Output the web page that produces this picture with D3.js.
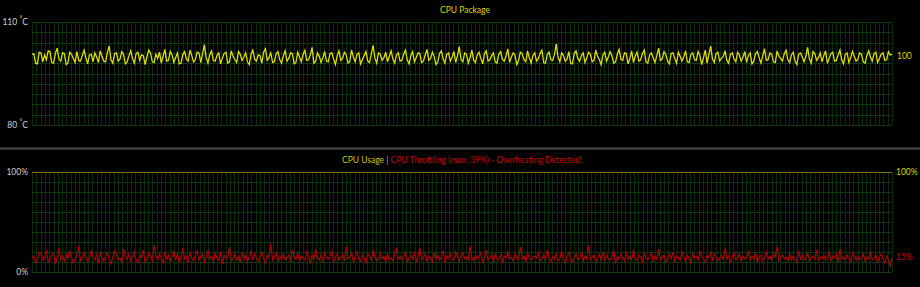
<!DOCTYPE html>
<html lang="en">
<head>
<meta charset="UTF-8">
<title>CPU Package / CPU Usage</title>
<script src="https://d3js.org/d3.v7.min.js"></script>
<style>
    html, body { margin: 0; padding: 0; background: #000; }
    svg { display: block; }
    text { font-family: Lato, "Open Sans", sans-serif; font-size: 8.5px; }
</style>
</head>
<body>
<div id="chart"></div>
<script>
// CPU package temperature (deg C)
var temps = [
    100.6,100.8,98.0,97.8,101.2,101.0,98.4,100.4,99.0,101.6,101.4,98.2,98.0,100.8,102.4,99.2,98.6,101.0,100.8,97.6,
    98.0,101.2,100.6,99.4,98.2,101.4,98.8,98.6,100.2,101.8,99.6,97.8,100.4,100.6,98.4,101.0,99.8,98.2,101.6,100.0,
    98.6,98.4,101.2,103.0,99.0,98.0,100.8,101.0,98.6,99.2,101.4,100.6,97.8,98.4,100.2,101.6,99.4,98.0,100.8,101.2,
    98.8,100.4,100.2,97.6,99.8,101.8,101.0,98.4,98.2,100.6,99.4,101.2,98.0,100.0,102.0,98.6,98.8,101.4,100.4,98.2,
    99.6,101.0,97.8,98.0,100.6,101.4,99.2,98.6,101.8,100.2,98.4,99.0,101.2,101.0,98.2,100.8,103.4,99.6,98.0,100.4,
    101.6,98.8,98.6,100.2,101.0,97.8,99.4,100.8,101.2,98.0,98.4,101.6,100.0,99.0,98.2,101.4,100.6,98.8,99.8,101.0,
    98.4,97.6,100.6,101.8,99.2,98.6,100.4,100.2,98.0,101.2,102.2,98.8,99.6,101.0,98.2,98.4,100.8,101.4,99.0,98.0,
    100.2,101.6,98.6,99.4,101.0,100.8,97.8,98.2,101.2,99.8,98.4,100.6,101.8,98.8,99.0,100.4,102.6,98.0,98.6,101.0,
    100.0,98.2,99.6,101.4,98.6,98.4,100.8,101.0,99.2,97.6,100.2,101.6,98.8,99.4,101.2,100.4,98.0,98.6,101.8,99.8,
    98.4,100.6,101.0,97.8,99.0,100.2,101.4,98.6,98.2,100.8,103.2,99.4,98.0,101.0,100.6,98.8,99.6,101.2,98.4,100.0,
    101.6,99.2,98.0,100.4,101.0,98.6,98.8,100.6,101.8,99.0,97.8,100.2,101.4,98.4,99.6,101.0,100.8,98.2,98.6,100.4,
    102.0,98.8,99.4,101.2,100.0,97.6,98.4,100.8,101.6,99.2,98.0,100.6,101.0,98.6,99.8,101.4,98.2,100.2,102.8,99.0,
    98.4,101.0,100.6,98.0,99.6,101.8,98.8,98.2,100.4,101.2,99.4,97.8,100.8,101.6,98.6,99.0,100.2,101.0,98.4,98.0,
    100.6,101.4,99.2,98.6,100.0,102.2,98.2,99.8,101.0,100.4,97.6,98.8,101.2,100.8,99.0,98.4,101.6,99.6,98.0,100.2,
    101.0,98.6,99.4,100.8,101.8,98.2,98.0,100.6,101.2,99.0,98.8,100.4,103.6,99.8,98.4,101.0,100.2,98.6,99.2,101.4,
    98.0,97.8,100.8,101.6,99.4,98.6,100.2,101.0,98.2,99.6,101.2,100.6,98.4,98.8,101.8,100.0,99.0,97.6,100.4,101.2,
    98.6,99.8,101.4,100.2,98.0,98.4,100.6,102.0,99.2,98.8,101.0,100.8,97.8,99.4,101.6,98.2,100.0,101.2,98.6,99.0,
    100.8,101.8,98.4,98.0,100.4,101.0,99.6,98.2,100.2,102.4,98.8,99.2,101.4,100.6,98.6,97.8,100.8,101.0,99.4,98.0,
    101.2,100.0,98.6,99.8,101.6,98.4,98.2,100.6,101.0,99.0,98.8,101.4,100.2,97.6,99.6,101.8,98.0,100.4,103.0,99.2,
    98.2,100.8,101.2,98.6,99.4,100.0,101.6,98.8,98.0,100.6,101.0,99.2,98.4,101.2,100.4,98.6,99.8,101.4,98.2,100.2,
    101.0,97.8,98.6,100.8,101.4,99.6,98.0,100.2,102.2,98.8,99.0,101.0,100.6,98.4,98.2,101.6,100.0,99.4,98.6,100.8,
    101.8,99.0,98.2,100.4,101.2,98.6,97.6,100.6,101.0,99.8,98.4,100.0,102.6,99.2,98.0,101.4,100.8,98.8,99.6,101.0,
    98.4,100.2,101.6,98.0,99.4,100.8,101.2,98.6,98.8,100.4,101.8,99.0,97.8,100.6,101.0,98.2,99.6,101.4,100.0,98.6,
    99.2,101.0,100.6,98.4,98.0,100.2,101.6,99.8,98.6,100.8,101.2,98.2,99.4,100.6,101.0,98.8,99.0,101.4,100.4,100.6
];

// CPU throttling (%)
var throttle = [
    14,16,9,11,20,18,12,15,22,10,13,17,19,8,14,24,12,16,11,18,
    13,21,15,9,12,17,26,11,14,19,16,10,13,22,15,12,18,9,20,14,
    11,16,19,13,8,15,21,17,12,14,10,23,16,13,18,11,15,20,12,9,
    17,14,22,10,13,19,15,11,27,16,12,18,14,9,20,13,17,11,15,21,
    12,18,10,15,24,13,16,9,19,14,11,17,21,12,15,18,10,14,22,13,
    16,11,19,14,12,20,8,17,13,15,25,11,14,18,12,16,10,19,13,17,
    10,15,21,12,18,14,11,16,20,13,9,17,15,28,12,14,19,11,16,13,
    18,12,14,17,10,22,15,13,19,11,16,14,12,20,15,9,17,13,23,14,
    12,17,11,19,14,13,16,21,10,15,18,12,14,17,11,26,13,15,19,10,
    15,20,13,11,17,14,9,18,16,12,22,15,11,14,19,13,16,10,18,12,
    14,11,18,23,13,16,12,15,20,10,14,17,13,19,11,16,24,12,15,18,
    11,16,14,10,19,13,17,12,15,21,9,16,14,18,12,13,20,15,11,17,
    19,13,15,12,26,14,11,17,13,16,19,10,15,22,12,14,17,11,18,13,
    12,17,10,16,14,20,13,15,11,18,14,12,25,13,16,10,19,14,12,15,
    16,14,19,11,13,17,12,22,15,10,16,13,18,11,14,21,13,9,16,19,
    13,10,15,18,12,14,20,11,16,13,27,12,15,17,10,14,18,12,20,11,
    17,13,12,16,21,10,15,13,18,14,11,19,13,16,12,22,14,11,17,15,
    10,18,14,12,15,19,11,16,13,23,12,15,17,10,14,18,13,20,11,16,
    14,12,20,15,11,17,13,9,18,14,16,12,21,15,13,10,17,14,19,12,
    18,15,11,14,17,12,24,13,16,10,15,19,12,14,18,11,16,13,15,20,
    12,16,13,19,10,15,17,11,14,20,13,16,12,18,15,26,11,14,17,13,
    15,11,18,12,16,14,10,21,13,17,12,15,19,11,14,16,13,22,12,15,
    13,17,12,15,20,11,16,14,18,10,23,13,15,12,17,14,11,19,16,12,
    16,12,14,18,11,15,13,20,12,14,17,10,15,18,13,9,16,12,6,14
];

var usageLevel = 100;        // CPU usage is pinned at 100%

var tempDomain = [80, 110];
var pctDomain = [0, 100];
var tempTicks = ["110", "80"];
var pctTicks = ["100%", "0%"];

var W = 920, H = 287;
var left = 32, right = 892;
var top1 = 22, bot1 = 125;
var top2 = 172, bot2 = 272;
var xDivs = 200, yDivs = 10;

var svg = d3.select("#chart").append("svg")
    .attr("width", W)
    .attr("height", H);

svg.append("rect").attr("width", W).attr("height", H).attr("fill", "#000");

// separator bar between the two panels
svg.append("rect").attr("x", 0).attr("y", 147).attr("width", W).attr("height", 3).attr("fill", "#2a2a2a");
svg.append("rect").attr("x", 0).attr("y", 148).attr("width", W).attr("height", 1).attr("fill", "#444");

function drawGrid(y0, y1) {
    var g = svg.append("g");
    var gx = d3.scaleLinear().domain([0, xDivs]).range([left, right]);
    var gy = d3.scaleLinear().domain([0, yDivs]).range([y0, y1]);
    g.selectAll(".v").data(d3.range(xDivs + 1)).enter().append("line")
        .attr("x1", function(d) { return Math.round(gx(d)) + 0.5; })
        .attr("x2", function(d) { return Math.round(gx(d)) + 0.5; })
        .attr("y1", y0).attr("y2", y1)
        .attr("stroke", "#0b2b0b").attr("stroke-width", 1);
    g.selectAll(".h").data(d3.range(yDivs + 1)).enter().append("line")
        .attr("x1", left).attr("x2", right)
        .attr("y1", function(d) { return Math.round(gy(d)) + 0.5; })
        .attr("y2", function(d) { return Math.round(gy(d)) + 0.5; })
        .attr("stroke", "#0f380f").attr("stroke-width", 1);
}

drawGrid(top1, bot1);
drawGrid(top2, bot2);

// ---- top panel: CPU Package temperature
var x1 = d3.scaleLinear().domain([0, temps.length - 1]).range([left, right]);
var y1 = d3.scaleLinear().domain(tempDomain).range([bot1, top1]);

svg.append("path")
    .datum(temps)
    .attr("fill", "none")
    .attr("stroke", "#dede00")
    .attr("stroke-width", 1.3)
    .attr("d", d3.line().x(function(d, i) { return x1(i); }).y(function(d) { return y1(d); }));

svg.append("text")
    .attr("x", 465).attr("y", 13)
    .attr("text-anchor", "middle")
    .attr("fill", "#d8d800")
    .text("CPU Package");

function degLabel(txt, y) {
    var t = svg.append("text")
        .attr("x", 28).attr("y", y)
        .attr("text-anchor", "end")
        .attr("fill", "#cfcfcf");
    t.append("tspan").text(txt + " ");
    t.append("tspan").attr("dy", -4).attr("font-size", 7).text("°");
    t.append("tspan").attr("dy", 4).text("C");
}
degLabel(tempTicks[0], y1(tempDomain[1]) + 3);
degLabel(tempTicks[1], y1(tempDomain[0]) + 3);

svg.append("text")
    .attr("x", 897).attr("y", y1(100) + 3)
    .attr("fill", "#d8d800")
    .text("100");

// ---- bottom panel: CPU usage and throttling
var x2 = d3.scaleLinear().domain([0, throttle.length - 1]).range([left, right]);
var y2 = d3.scaleLinear().domain(pctDomain).range([bot2, top2]);

svg.append("line")
    .attr("x1", left).attr("x2", right)
    .attr("y1", y2(usageLevel) + 0.5).attr("y2", y2(usageLevel) + 0.5)
    .attr("stroke", "#7a7200").attr("stroke-width", 1);

svg.append("path")
    .datum(throttle)
    .attr("fill", "none")
    .attr("stroke", "#b00000")
    .attr("stroke-width", 1.2)
    .attr("d", d3.line().x(function(d, i) { return x2(i); }).y(function(d) { return y2(d); }));

var title2 = svg.append("text")
    .attr("x", 462).attr("y", 163)
    .attr("text-anchor", "middle");
title2.append("tspan").attr("fill", "#c8c800").text("CPU Usage ");
title2.append("tspan").attr("fill", "#9a9a9a").text(" | ");
title2.append("tspan").attr("fill", "#d00000").text(" CPU Throttling (max: 39%) - Overheating Detected!");

svg.append("text")
    .attr("x", 28).attr("y", y2(100) + 3)
    .attr("text-anchor", "end")
    .attr("fill", "#cfcfcf")
    .text(pctTicks[0]);
svg.append("text")
    .attr("x", 28).attr("y", y2(0) + 3)
    .attr("text-anchor", "end")
    .attr("fill", "#cfcfcf")
    .text(pctTicks[1]);

svg.append("text")
    .attr("x", 896).attr("y", y2(100) + 3)
    .attr("fill", "#d8d800")
    .text("100%");
svg.append("text")
    .attr("x", 896).attr("y", y2(15) + 3)
    .attr("fill", "#d00000")
    .text("15%");
</script>
</body>
</html>
